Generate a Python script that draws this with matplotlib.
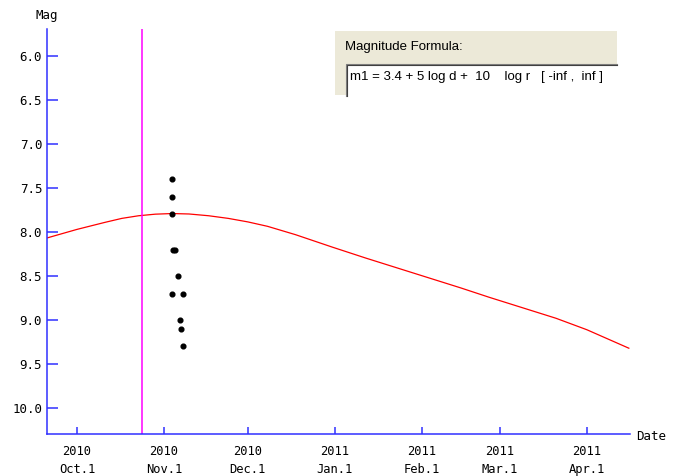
import matplotlib
matplotlib.use('Agg')
import matplotlib.pyplot as plt
from matplotlib.patches import Rectangle
from matplotlib.lines import Line2D
from datetime import datetime

# predicted magnitude curve
curve_dates = ['2010-09-20', '2010-10-01', '2010-10-11', '2010-10-17', '2010-10-23',
               '2010-10-29', '2010-11-04', '2010-11-10', '2010-11-17', '2010-11-24',
               '2010-12-01', '2010-12-08', '2010-12-18', '2010-12-31', '2011-01-12',
               '2011-01-24', '2011-02-05', '2011-02-15', '2011-02-25', '2011-03-09',
               '2011-03-21', '2011-04-01', '2011-04-16']
curve_mags = [8.07, 7.97, 7.89, 7.845, 7.815, 7.797, 7.79, 7.795, 7.815, 7.845,
              7.885, 7.935, 8.03, 8.17, 8.295, 8.415, 8.535, 8.635, 8.74, 8.86,
              8.98, 9.11, 9.32]

# observations
obs_dates = ['2010-11-03T22', '2010-11-03T22', '2010-11-03T22', '2010-11-04T10',
             '2010-11-04T22', '2010-11-06T02', '2010-11-03T22', '2010-11-07T20',
             '2010-11-06T18', '2010-11-07T03', '2010-11-07T20']
obs_mags = [7.4, 7.6, 7.8, 8.2, 8.2, 8.5, 8.7, 8.7, 9.0, 9.1, 9.3]

today = '2010-10-24T05'

tick_dates = ['2010-10-01', '2010-11-01', '2010-12-01', '2011-01-01',
              '2011-02-01', '2011-03-01', '2011-04-01']
tick_labels = ['2010\nOct.1', '2010\nNov.1', '2010\nDec.1', '2011\nJan.1',
               '2011\nFeb.1', '2011\nMar.1', '2011\nApr.1']
y_ticks = [6.0, 6.5, 7.0, 7.5, 8.0, 8.5, 9.0, 9.5, 10.0]

formula_title = 'Magnitude Formula:'
formula_text = 'm1 = 3.4 + 5 log d +  10    log r   [ -inf ,  inf ]'

W, H = 680, 476
mono = 'DejaVu Sans Mono'
axis_blue = '#3030FF'


def d(s):
    return datetime.fromisoformat(s)


def fx(x):
    return x / W


def fy(y):
    return 1 - y / H


fig = plt.figure(figsize=(W / 100, H / 100), dpi=100)
ax = fig.add_axes([fx(47), fy(434), (630 - 47) / W, (434 - 29) / H])

ax.plot([d(s) for s in curve_dates], curve_mags, color='red', lw=0.9)
ax.axvline(d(today), color='#FF00FF', lw=1.1)
ax.plot([d(s) for s in obs_dates], obs_mags, 'o', color='black', ms=3.4, ls='none')

ax.set_xlim(datetime(2010, 9, 20, 7), datetime(2011, 4, 16, 10))
ax.set_ylim(10.295, 5.693)

for s in ['top', 'right']:
    ax.spines[s].set_visible(False)
for s in ['left', 'bottom']:
    ax.spines[s].set_color(axis_blue)
    ax.spines[s].set_linewidth(1.1)

ax.set_yticks(y_ticks)
ax.set_yticklabels(['%.1f' % v for v in y_ticks], family=mono, fontsize=9)
ax.set_xticks([d(s) for s in tick_dates])
ax.set_xticklabels(tick_labels, family=mono, fontsize=8.7)
for lab in ax.get_xticklabels():
    lab.set_linespacing(1.45)
ax.tick_params(axis='y', direction='in', length=8, width=1.1, color=axis_blue, pad=3.5)
ax.tick_params(axis='x', direction='in', length=5, width=1.1, color=axis_blue, pad=8)

fig.text(fx(35), fy(15), 'Mag', family=mono, fontsize=9, va='center', ha='left')
fig.text(fx(636), fy(437), 'Date', family=mono, fontsize=9, va='center', ha='left')

# formula box
fig.add_artist(Rectangle((fx(335), fy(95)), (617 - 335) / W, (95 - 31) / H,
                         transform=fig.transFigure, facecolor='#ECE9D8', edgecolor='none'))
fig.add_artist(Rectangle((fx(346), fy(96)), (617 - 346) / W, (96 - 64) / H,
                         transform=fig.transFigure, facecolor='white', edgecolor='none'))
fig.add_artist(Line2D([fx(346), fx(346), fx(617)], [fy(96), fy(64), fy(64)],
                      transform=fig.transFigure, color='#808080', lw=0.8))
fig.add_artist(Line2D([fx(347.2), fx(347.2), fx(617)], [fy(96), fy(65.2), fy(65.2)],
                      transform=fig.transFigure, color='#404040', lw=0.8))
fig.text(fx(345), fy(47), formula_title, family='Liberation Sans', fontsize=9.5,
         va='center', ha='left')
fig.text(fx(350), fy(77), formula_text, family='Liberation Sans', fontsize=9.5,
         va='center', ha='left')

fig.savefig('out.png', dpi=100)
